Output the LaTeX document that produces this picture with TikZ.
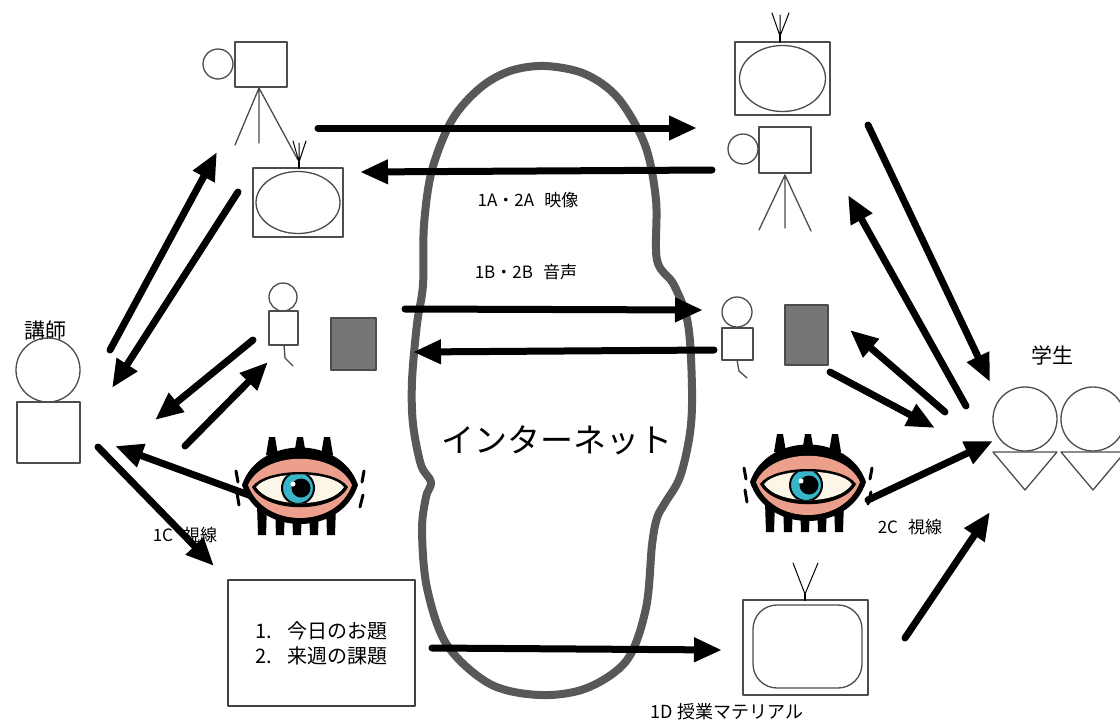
\documentclass[tikz,border=0pt]{standalone}
\usepackage{fontspec}
\setmainfont{Noto Sans CJK JP}
\usetikzlibrary{arrows.meta}

\definecolor{cloudgray}{RGB}{88,88,88}
\definecolor{boxgray}{RGB}{118,118,118}
\definecolor{lidpink}{RGB}{236,160,140}
\definecolor{iriscyan}{RGB}{56,182,200}
\definecolor{sclera}{RGB}{252,246,232}

\begin{document}
\begin{tikzpicture}[line cap=round,line join=round,x=1pt,y=-1pt,
    >={Triangle[length=28pt,width=23pt]},
    fat/.style={->,line width=7pt},
    outline/.style={draw=black!70,line width=1.3pt},
    txt/.style={inner sep=0pt,font=\fontsize{17}{17}\selectfont}]
  \useasboundingbox (0,0) rectangle (1120,726);
  \fill[white] (0,0) rectangle (1120,726);

  % the internet cloud
  \draw[cloudgray,line width=8pt] plot[smooth cycle,tension=0.55] coordinates {
    (545,66) (585,74) (618,98) (645,145) (656,200) (657,260) (674,285) (688,324)
    (692,389) (690,433) (680,477) (665,503) (657,518) (652,545) (646,608)
    (627,660) (587,688) (540,695) (490,684) (447,645) (427,588) (422,530)
    (426,497) (431,482) (421,465) (413,424) (412,381) (417,324) (423,285)
    (424,225) (432,170) (452,120) (480,88) (510,71)};
  \node[txt,font=\fontsize{33}{33}\selectfont] (net) at (557,440) {インターネット};

  % teacher
  \node[txt,font=\fontsize{21}{21}\selectfont] (teacher) at (45,331) {講師};
  \draw[outline] (48,370) circle (32);
  \draw[outline] (17,402) rectangle (80,463);

  % students
  \node[txt,font=\fontsize{21}{21}\selectfont] (students) at (1052,355) {学生};
  \foreach \sx in {1025,1093}{
    \draw[outline] (\sx,419) circle (32);
    \draw[outline] (\sx-32,452) -- (\sx+32,452) -- (\sx,490) -- cycle;
  }

  % cameras
  \draw[outline] (218,64) circle (15);
  \draw[outline] (235,42) rectangle (287,87);
  \draw[outline] (235,145) -- (259,88) -- (259,143) (259,88) -- (298,160);
  \draw[outline] (743,149) circle (15);
  \draw[outline] (759,127) rectangle (811,173);
  \draw[outline] (759,230) -- (785,175) -- (785,228) (785,175) -- (811,231);

  % monitors
  \draw[outline] (253,168) rectangle (343,237);
  \draw[outline] (298,202.5) ellipse (42 and 31);
  \draw[line width=1pt] (293,141) -- (299,162) -- (306,141) (299,162) -- (299,143);
  \draw[line width=2.5pt] (299,161) -- (299,168);
  \draw[outline] (735,42) rectangle (830,115);
  \draw[outline] (782.5,78.5) ellipse (43 and 33);
  \draw[line width=1pt] (772,13) -- (780,36) -- (789,13) (780,36) -- (780,15);
  \draw[line width=2.5pt] (780,35) -- (780,42);
  \draw[outline] (743,600) rectangle (868,695);
  \draw[outline,rounded corners=24pt] (753,605) rectangle (862,688);
  \draw[line width=1pt] (793,563) -- (805,594) -- (818,563);
  \draw[line width=2.5pt] (805,593) -- (805,600);

  % microphone figures and speakers
  \draw[outline] (283,297) circle (14);
  \draw[outline] (269,311) rectangle (298,345);
  \draw[outline] (284,345) -- (285,358) -- (293,366);
  \draw[outline,fill=boxgray] (331,318) rectangle (376,370);
  \draw[outline] (737,312) circle (15);
  \draw[outline] (722,328) rectangle (753,360);
  \draw[outline] (737,360) -- (739,371) -- (747,378);
  \draw[outline,fill=boxgray] (785,305) rectangle (828,365);

  % lesson memo
  \node[draw=black!75,line width=1.2pt,minimum width=187pt,minimum height=126pt,
    align=left,font=\fontsize{20}{25}\selectfont] (memo) at (321.5,643)
    {1.\hspace{.8em}今日のお題\\2.\hspace{.8em}来週の課題};

  % labels
  \node[txt] (video) at (528,200) {1A・2A\hspace{.6em}映像};
  \node[txt] (audio) at (526,272) {1B・2B\hspace{.6em}音声};
  \node[txt] (gazeL) at (185,535) {1C\hspace{.6em}視線};
  \node[txt] (gazeR) at (910,527) {2C\hspace{.6em}視線};
  \node[txt,font=\fontsize{18}{18}\selectfont] (material) at (727,712) {1D 授業マテリアル};

  % arrow ends
  \coordinate (camL) at (318,128);  \coordinate (tvRin) at (697,128);
  \coordinate (camR) at (712,170);  \coordinate (tvLin) at (360,172);
  \coordinate (micL) at (405,309);  \coordinate (spkRin) at (703,310);
  \coordinate (micR) at (714,350);  \coordinate (spkLin) at (413,352);
  \coordinate (memoR) at (432,648); \coordinate (tvDin) at (722,650);
  \coordinate (tchA) at (110,350);  \coordinate (camLin) at (217,152);
  \coordinate (tvLout) at (238,192); \coordinate (tchB) at (112,388);
  \coordinate (spkLout) at (253,340); \coordinate (tchC) at (155,420);
  \coordinate (tchD) at (185,446);  \coordinate (micLin) at (268,362);
  \coordinate (eyeL) at (257,498);  \coordinate (tchE) at (115,446);
  \coordinate (tchF) at (98,447);   \coordinate (memoin) at (214,566);
  \coordinate (tvRout) at (868,125); \coordinate (stA) at (990,382);
  \coordinate (stB) at (966,406);   \coordinate (camRin) at (848,195);
  \coordinate (stC) at (945,412);   \coordinate (micRin) at (850,330);
  \coordinate (spkRout) at (830,372); \coordinate (stD) at (935,428);
  \coordinate (eyeR) at (868,500);  \coordinate (stE) at (993,441);
  \coordinate (tvDout) at (905,638); \coordinate (stF) at (990,512);

  % arrows
  \foreach \a/\b in {camL/tvRin,camR/tvLin,micL/spkRin,micR/spkLin,memoR/tvDin,
      tchA/camLin,tvLout/tchB,spkLout/tchC,tchD/micLin,eyeL/tchE,tchF/memoin,
      tvRout/stA,stB/camRin,stC/micRin,spkRout/stD,eyeR/stE,tvDout/stF}
    \draw[fat] (\a) -- (\b);

  % eyes
  \foreach \ex/\ey in {300/485,808/482}{
    \begin{scope}[shift={(\ex,\ey)}]
      \foreach \lx in {-28,0,27}
        \fill (\lx-6,-30) -- (\lx-3,-48) -- (\lx+3,-48) -- (\lx+6,-30) -- cycle;
      \foreach \lx in {-38,-20,-3,14,31}
        \fill (\lx-5,20) -- (\lx-4,50) -- (\lx+4,50) -- (\lx+5,20) -- cycle;
      \fill (-58,0) .. controls (-41,-50) and (41,-50) .. (58,0)
        .. controls (41,52) and (-41,52) .. (-58,0);
      \fill[lidpink] (-52,0) .. controls (-36,-35) and (36,-35) .. (52,0)
        .. controls (36,44) and (-36,44) .. (-52,0);
      \fill (-48,2) .. controls (-34,-18) and (34,-18) .. (48,2)
        .. controls (34,29) and (-34,29) .. (-48,2);
      \begin{scope}
        \clip (-44,2) .. controls (-31,-14.5) and (31,-14.5) .. (44,2)
          .. controls (31,23.5) and (-31,23.5) .. (-44,2);
        \fill[sclera] (-44,-20) rectangle (44,25);
        \fill[iriscyan] (-2,3) circle (16);
        \draw[line width=2pt] (-2,3) circle (16);
        \fill (1,3) circle (9.5);
        \fill[white] (-7,-1) circle (2.5);
      \end{scope}
      \draw[line width=3pt] (-64,-14) -- (-62,-3) (-63,8) -- (-61,20)
        (64,-14) -- (62,-3) (63,10) -- (60,22);
    \end{scope}
  }
\end{tikzpicture}
\end{document}
